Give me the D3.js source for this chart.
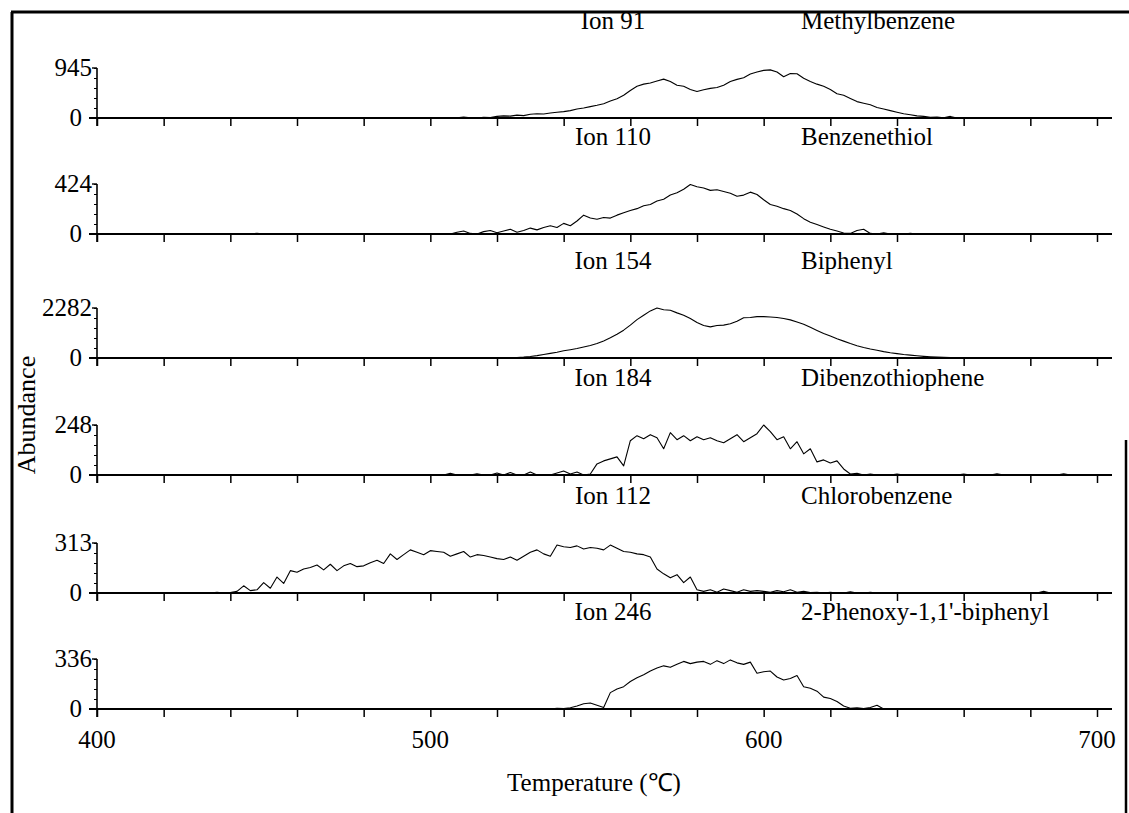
<!DOCTYPE html>
<html><head><meta charset="utf-8">
<script src="https://cdn.jsdelivr.net/npm/d3@7"></script>
<style>
body{margin:0;background:#fff}
svg{display:block}
text{font-family:"Liberation Serif","Times New Roman",serif;fill:#000}
</style>
</head><body>
<svg id="chart" width="1129" height="813"></svg>
<script>
// ---------- DATA ----------
const tempStart = 400, tempStep = 2;            // sampling grid: 400 .. 704 °C every 2 °C
const ionLabels = ["Ion 91", "Ion 110", "Ion 154", "Ion 184", "Ion 112", "Ion 246"];
const compounds = ["Methylbenzene", "Benzenethiol", "Biphenyl", "Dibenzothiophene", "Chlorobenzene", "2-Phenoxy-1,1'-biphenyl"];
const yMax = [945, 424, 2282, 248, 313, 336];
const xTickValues = [400,420,440,460,480,500,520,540,560,580,600,620,640,660,680,700];
const xTickLabels = [400, 500, 600, 700];

const methylbenzene = [
  0,0,0,0,0,0,0,0,0,0,
  0,0,0,0,0,0,0,0,0,0,
  0,0,0,0,0,0,0,0,0,0,
  0,0,0,0,0,0,0,0,0,0,
  0,0,0,0,0,0,0,0,0,0,
  0,0,0,0,5,20,5,0,15,10,
  30,40,35,55,45,70,80,75,95,110,
  120,140,170,190,215,240,270,320,365,430,
  520,600,640,660,700,735,690,620,600,540,
  500,535,560,575,620,690,730,760,830,870,
  900,910,870,780,840,835,750,690,640,600,
  540,460,430,370,310,280,250,200,170,140,
  110,80,60,40,30,15,20,5,30,0,
  0,0,0,0,0,0,0,0,0,0,
  0,0,0,0,0,0,0,0,0,0,
  0,0,10
];
const benzenethiol = [
  0,0,0,0,0,0,0,0,0,0,
  0,0,0,0,0,0,0,0,0,0,
  0,0,0,0,5,0,0,0,0,0,
  0,0,0,0,0,0,0,0,0,0,
  0,0,0,0,0,0,0,0,0,0,
  0,0,0,0,15,25,5,0,20,30,
  10,25,40,15,30,50,35,55,70,55,
  90,70,110,160,135,125,140,135,160,180,
  200,215,240,250,280,295,330,350,380,420,
  400,390,370,375,360,345,320,330,355,335,
  290,250,235,215,200,170,130,100,80,60,
  40,25,8,5,30,40,5,0,10,0,
  0,0,5,0,0,0,0,0,0,0,
  0,0,0,0,0,0,0,0,0,0,
  0,0,0,0,0,0,0,0,0,0,
  0,0,0
];
const biphenyl = [
  0,0,0,0,0,0,0,0,0,0,
  0,0,0,0,0,0,0,0,0,0,
  0,0,0,0,0,0,0,0,0,0,
  0,0,0,0,0,0,0,0,0,0,
  0,0,0,0,0,0,0,0,0,0,
  0,0,0,0,0,0,0,0,0,0,
  0,5,10,20,40,70,110,160,210,260,
  330,380,430,500,570,660,780,920,1080,1270,
  1500,1750,1950,2150,2282,2200,2180,2060,1950,1800,
  1620,1480,1420,1480,1500,1560,1680,1840,1850,1890,
  1890,1870,1850,1800,1740,1640,1540,1400,1260,1120,
  1000,880,770,660,560,480,410,350,290,240,
  200,160,130,100,75,55,40,28,18,10,
  5,0,0,0,0,0,0,0,0,0,
  0,0,0,0,0,0,0,0,0,0,
  0,0,0
];
const dibenzothiophene = [
  0,0,0,0,0,0,0,0,0,0,
  0,0,0,0,0,0,0,0,0,0,
  0,0,0,0,0,0,0,0,0,0,
  0,0,0,0,0,0,0,0,0,0,
  0,0,0,0,0,0,0,0,0,0,
  0,0,0,8,0,0,0,6,0,0,
  10,0,12,0,0,15,0,0,0,10,
  20,5,15,0,5,55,70,80,90,45,
  170,195,180,200,185,130,210,175,195,170,
  190,175,185,170,160,180,200,165,185,205,
  248,215,175,190,130,165,105,130,65,75,
  60,70,30,5,8,0,5,0,0,0,
  5,0,0,0,0,0,0,0,0,0,
  5,0,0,0,0,6,0,0,0,0,
  0,0,0,0,0,6,0,0,0,0,
  0,0,0
];
const chlorobenzene = [
  0,0,0,0,0,0,0,0,0,0,
  0,0,0,0,0,3,0,0,5,0,
  3,10,45,15,20,65,30,100,60,140,
  130,150,160,175,145,180,140,170,185,165,
  170,190,205,185,245,210,240,270,255,240,
  265,260,255,230,245,260,225,240,235,225,
  215,210,225,205,230,255,270,245,230,300,
  290,285,295,275,285,280,270,300,280,260,
  255,245,240,225,150,120,95,115,65,100,
  20,10,20,5,25,15,5,20,10,15,
  10,5,15,8,20,5,10,3,5,0,
  5,0,0,8,0,0,5,0,0,0,
  0,0,0,0,0,0,0,0,0,0,
  0,0,0,0,0,0,0,0,0,0,
  0,0,10,0,0,0,0,0,0,0,
  0,0,0
];
const phenoxybiphenyl = [
  0,0,0,0,0,0,0,0,0,0,
  0,0,0,0,0,0,0,0,0,0,
  0,0,0,0,0,0,0,0,0,0,
  0,0,0,0,0,0,0,0,0,0,
  0,0,0,0,0,0,0,0,0,0,
  0,0,0,0,0,0,0,0,0,0,
  0,0,0,0,0,0,0,0,0,5,
  3,8,20,35,40,25,10,110,135,150,
  185,210,230,255,275,290,280,300,320,305,
  315,320,300,325,305,330,310,300,315,240,
  250,255,215,195,205,225,150,140,120,80,
  70,50,20,5,8,3,10,25,0,0,
  0,0,0,0,0,0,0,0,0,0,
  0,0,0,0,0,0,0,0,0,0,
  0,0,0,0,0,0,0,0,0,0,
  0,0,0
];
const seriesList = [methylbenzene, benzenethiol, biphenyl, dibenzothiophene, chlorobenzene, phenoxybiphenyl];

// ---------- LAYOUT ----------
const svg = d3.select("#chart");
const W = 1129, H = 813;
const zeroY = [118, 234, 358, 475, 593, 709];
const panelH = 50;
const x = d3.scaleLinear().domain([400, 700]).range([97, 1097]);
const FS = 25;

// frame
svg.append("line").attr("x1", 12).attr("y1", 12).attr("x2", 12).attr("y2", H).attr("stroke", "#000").attr("stroke-width", 3);
svg.append("line").attr("x1", 11).attr("y1", 12).attr("x2", W).attr("y2", 12).attr("stroke", "#000").attr("stroke-width", 3);
svg.append("line").attr("x1", 1126).attr("y1", 440).attr("x2", 1126).attr("y2", H).attr("stroke", "#000").attr("stroke-width", 2.5);

seriesList.forEach((vals, i) => {
  const z = zeroY[i];
  const y = d3.scaleLinear().domain([0, yMax[i]]).range([z, z - panelH]);
  const g = svg.append("g");

  // x axis (baseline with downward ticks)
  const xAxis = d3.axisBottom(x).tickValues(xTickValues).tickSize(8).tickSizeOuter(0).tickFormat("");
  const ax = g.append("g").attr("transform", `translate(0,${z})`).call(xAxis);
  ax.select(".domain").remove();
  ax.selectAll(".tick line").attr("stroke", "#000").attr("stroke-width", 1.5);
  g.append("line")
    .attr("x1", x(397.6)).attr("x2", x(704.5))
    .attr("y1", z).attr("y2", z)
    .attr("stroke", "#000").attr("stroke-width", 2.2);

  // y axis
  const yAxis = d3.axisLeft(y).tickValues(d3.range(0, 6).map(k => yMax[i] * k / 5)).tickSize(3).tickFormat("");
  const ay = g.append("g").attr("transform", `translate(${x(400)},0)`).call(yAxis);
  ay.select(".domain").remove();
  ay.selectAll(".tick line").attr("stroke", "#000").attr("stroke-width", 1);
  g.append("line").attr("x1", x(400)).attr("x2", x(400)).attr("y1", y(yMax[i])).attr("y2", z + 8)
    .attr("stroke", "#000").attr("stroke-width", 1.6);
  g.append("line").attr("x1", x(400) - 5).attr("x2", x(400)).attr("y1", y(yMax[i])).attr("y2", y(yMax[i]))
    .attr("stroke", "#000").attr("stroke-width", 1.4);

  // y labels
  g.append("text").attr("x", x(400) - 5).attr("y", y(yMax[i]) + 8)
    .attr("text-anchor", "end").attr("font-size", FS).text(yMax[i]);
  g.append("text").attr("x", x(400) - 15).attr("y", z + 8)
    .attr("text-anchor", "end").attr("font-size", FS).text("0");

  // curve
  const line = d3.line().x((d, k) => x(tempStart + k * tempStep)).y(d => y(d));
  g.append("path").datum(vals).attr("d", line)
    .attr("fill", "none").attr("stroke", "#000").attr("stroke-width", 1.1).attr("stroke-linejoin", "round");

  // labels
  g.append("text").attr("x", 613).attr("y", z - 89).attr("text-anchor", "middle")
    .attr("font-size", FS).text(ionLabels[i]);
  g.append("text").attr("x", 801).attr("y", z - 89)
    .attr("font-size", FS).text(compounds[i]);
});

// x tick labels (bottom panel)
svg.append("g").selectAll("text").data(xTickLabels).join("text")
  .attr("x", d => x(d)).attr("y", 748).attr("text-anchor", "middle")
  .attr("font-size", FS).text(d => d);

// axis titles
svg.append("text").attr("x", 594).attr("y", 791).attr("text-anchor", "middle")
  .attr("font-size", FS).text("Temperature (℃)");
svg.append("text").attr("transform", "translate(35,415) rotate(-90)").attr("text-anchor", "middle")
  .attr("font-size", 26).text("Abundance");
</script>
</body></html>
